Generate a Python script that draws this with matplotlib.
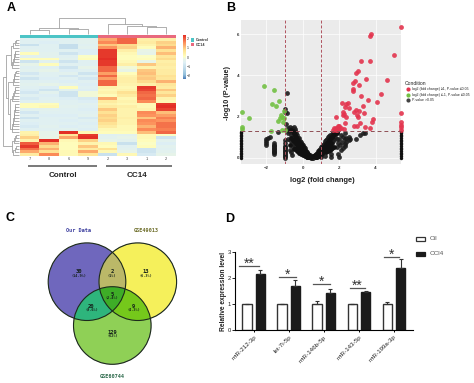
import numpy as np
import matplotlib
matplotlib.use('Agg')
import matplotlib.pyplot as plt
from matplotlib.colors import LinearSegmentedColormap
from matplotlib.patches import Circle, Rectangle

plt.rcParams['font.family'] = ['Liberation Sans', 'DejaVu Sans']

W, H = 474, 383

# ---- panel A data
heat_rows = [
    [-.5,-.5,-.5,-.4, 1.3,1.9,.4,.4], [-.5,-.6,-.5,-.4, 1.6,1.9,.5,.9],
    [-1.0,-.5,-1.1,-.5, 1.0,.8,.3,.8], [-.5,-.5,-1.1,-.4, 1.5,.9,.1,1.2],
    [-.4,-.5,-.5,-.6, 2.3,.4,-.2,.7], [.1,-.4,-.9,-.6, 2.3,.2,-.3,1.1],
    [-.4,-.4,-.5,.0, 2.3,.1,.0,.6], [.1,.1,-.4,.1, 2.4,.1,.1,.8],
    [-.9,-.4,-.9,-.5, 2.3,.2,-.2,.4], [-.3,.1,-.5,-.5, 2.3,.4,1.0,.5],
    [-.5,-.5,-.9,-.3, 1.9,-.1,.3,.4], [-.4,-.3,-.6,-.5, 1.9,-.2,1.0,.5],
    [-.8,-.5,-.4,-.9, 1.4,.1,1.1,.5], [-.5,-.5,-.8,-.5, 1.9,.3,.9,.7],
    [-.9,-.6,-.5,-.8, 1.4,.4,1.0,.6], [-.5,-.5,-.6,-.5, 1.9,.4,.8,1.2],
    [-.4,-.3,-.4,-.6, 1.9,.3,.4,.6], [-.5,-.6,.1,-.5, .3,.2,2.3,.5],
    [-.6,-.9,-.4,-.6, .2,.3,2.2,1.0], [-.8,-.4,-.9,-.1, .3,.7,1.9,.6],
    [-.5,-.6,-.9,-.1, .1,.5,1.8,.9], [-.7,-.5,-.6,-.7, 1.3,.2,1.9,.3],
    [-.5,-.4,-.5,-.6, .5,.3,1.6,.2], [.1,.1,-.5,-.4, .3,.2,.2,2.3],
    [.1,.2,-.4,-.5, .5,.4,.2,2.4], [-.4,-.4,-.5,-.6, 1.0,.3,.3,2.2],
    [-.8,-.5,-.5,-.5, .7,.3,1.6,1.1], [-.5,-.6,-.6,-.4, .9,.3,1.5,1.4],
    [-.9,-.5,-.5,-.7, .8,.4,1.0,1.7], [-.5,-.5,-.6,-.5, .9,.3,1.6,1.5],
    [-.6,-.5,-.5,-.6, .7,.3,1.5,1.8], [-.7,-.4,-.6,-.5, .5,.2,1.2,1.8],
    [-.5,-.5,-.4,-.6, .2,.2,1.6,1.7], [.3,-.3,2.4,.2, .1,.1,1.1,1.9],
    [.4,-.3,.6,2.3, -.5,-.4,.2,.0], [.9,-.2,1.3,2.4, -.4,-.3,.2,-.9],
    [.3,2.4,.2,.9, -.3,-.4,.1,-.4], [2.0,1.2,.1,.3, .2,-1.0,.0,-.6],
    [2.3,.8,.1,1.0, .1,-.5,.1,-.4], [1.8,1.2,.1,.5, .7,-.4,-.9,-.5],
    [1.3,.7,.2,1.3, .2,-.3,-.9,-.4], [.5,1.6,.2,.6, -1.0,.2,-.7,-.3],
]
heat_labels = ['7', '8', '6', '9', '2', '3', '1', '2']

# ---- panel B data
red_x = [5.38,3.75,3.72,5.02,3.2,3.7,3.06,2.91,3.46,2.89,2.75,3.1,2.78,2.78,4.63,4.3,3.19,3.57,4.07,
         2.14,2.49,2.4,3.31,2.34,2.53,2.2,2.29,2.2,2.38,1.83,2.91,3.11,2.84,3.39,3.0,3.06,3.88,3.81,
         3.15,2.84,3.0,2.34,3.44,3.68,1.92,2.02,1.85,1.71,1.67,1.81,1.98,2.13,2.25,1.75,1.9,
         5.38,5.38,5.38,5.38,5.38]
red_y = [6.36,6.02,5.93,5.0,4.69,4.69,4.22,4.12,3.81,3.75,3.62,3.52,3.34,3.25,3.77,3.1,3.0,2.78,2.69,
         2.68,2.68,2.6,2.5,2.44,2.4,2.2,2.14,2.06,1.96,2.0,2.32,2.26,2.22,2.16,2.05,1.96,1.88,1.72,
         1.67,1.56,1.56,1.7,1.48,1.44,1.55,1.52,1.45,1.44,1.32,1.32,1.38,1.42,1.38,1.38,1.33,
         2.16,1.72,1.6,1.48,1.36]
green_x = [-3.33,-2.97,-2.11,-1.58,-1.28,-1.67,-1.45,-1.03,-1.19,-1.14,-1.26,-1.34,-1.04,-1.08,-1.72,-1.12,-.99,-3.33,-3.33]
green_y = [2.24,1.92,3.5,3.3,2.76,2.6,2.52,2.27,2.05,2.0,1.92,1.8,1.92,1.75,1.3,1.32,1.32,1.51,1.38]

black_x = [-.84,-.95,-1.0,-.86,-.93,-1.36,
           -2.0,-2.0,-2.0,-2.0,-1.9,-1.78,
           -1.6,-1.6,-1.6,-1.6,-1.6,-1.6,-1.6,-1.6,-1.55,-1.55,-1.55,
           -1.0,-1.0,-1.0,-1.0,-1.0,-1.0,-1.0,-1.0,-1.0,-1.0,-.95,-.95,-.95,
           -.8,-.8,-.8,-.75,-.7,-.7,-.7,-.65,-.65,-.6,-.6,-.6,-.6,-.55,-.55,
           -.5,-.5,-.5,-.45,-.45,-.45,-.4,-.4,-.4,-.35,-.35,-.3,-.3,-.3,-.25,-.25,
           -.2,-.2,-.2,-.15,-.15,-.1,-.1,-.05,-.05,0,0,0,.05,.05,.1,.1,.15,.15,.2,.2,.25,.25,
           .3,.3,.35,.35,.4,.4,.45,.45,.5,.5,.55,.55,.6,.6,.65,.65,.7,.7,.75,.75,.8,.8,.85,.85,
           .9,.9,.95,.95,1.0,1.0,1.05,1.05,1.1,1.1,1.15,1.15,1.2,1.2,1.25,1.25,1.3,1.3,1.35,1.35,
           1.4,1.4,1.45,1.45,1.5,1.5,1.55,1.55,1.55,1.55,1.6,1.6,1.65,1.65,1.7,1.7,1.75,1.8,
           1.9,1.9,1.9,1.95,1.95,2.0,2.0,2.05,2.1,2.1,2.15,2.2,2.2,2.3,2.3,2.35,2.35,2.4,2.4,2.55,2.55,2.6,
           2.95,3.15,3.3,3.4]
black_y = [3.15,2.37,2.24,2.16,1.64,1.23,
           .62,.72,.82,.92,.95,1.02,
           .2,.27,.34,.41,.48,.55,.62,.7,.27,.4,.55,
           0,.08,.16,.24,.32,.4,.48,.56,.7,.85,.1,.3,.5,
           1.45,1.2,.9,1.3,1.5,.85,.35,1.1,.25,1.45,1.25,.7,.15,1.0,.5,
           1.48,1.2,.75,1.4,.9,.55,1.3,1.05,.7,1.2,.8,1.1,.85,.5,.95,.6,
           .95,.65,.35,.8,.4,.75,.4,.65,.3,.6,.4,.2,.5,.2,.45,.15,.38,.12,.32,.08,.25,.05,
           .2,.05,.15,.02,.12,.01,.08,.0,.05,.0,.08,.0,.1,.01,.12,.02,.15,.03,.2,.05,.22,.07,.3,.08,
           .38,.1,.42,.15,.5,.05,.55,.2,.6,.25,.68,.3,.72,.1,.8,.35,.85,.4,.9,.45,
           1.0,.5,1.05,.55,1.1,.6,.6,.4,.2,.03,1.15,.7,1.2,.8,1.2,.9,1.15,1.0,
           1.25,.9,.5,.7,.2,.9,.05,.6,1.1,.35,.75,1.0,.45,.9,.55,1.2,.65,.95,.75,1.0,.85,.9,
           .92,1.1,1.2,1.22]
# denser part of the V
dense_x = [-.62,-.55,-.48,-.42,-.36,-.3,-.24,-.18,-.12,-.06,0,.06,.12,.18,.24,.3,.36,
           -.52,-.46,-.38,-.32,-.26,-.2,-.14,-.08,-.02,.04,.1,.16,.22,.28,.34,.4,.46,
           -.72,-.62,-.5,-.38,-.3,-.2,-.1,.02,.12,.22,.32,.42,
           .62,.68,.74,.8,.86,.92,.98,1.04,1.1,1.16,1.22,1.28,1.34,1.4,1.46,1.52,1.58,
           .72,.78,.84,.9,.96,1.02,1.08,1.14,1.2,1.26,1.32,1.38,1.44,1.5,1.56,
           1.62,1.68,1.74,1.8,1.86,1.3,1.4,1.5,1.6,1.7]
dense_y = [1.32,1.28,1.18,1.08,1.0,.92,.82,.74,.66,.58,.5,.42,.34,.28,.22,.16,.1,
           .85,.8,.72,.66,.55,.5,.44,.38,.3,.26,.22,.16,.12,.08,.06,.03,.02,
           .6,.95,.4,.42,.3,.22,.2,.12,.06,.03,.02,.01,
           .06,.1,.14,.18,.24,.3,.34,.4,.46,.52,.58,.64,.7,.76,.84,.9,.98,
           .03,.05,.08,.12,.16,.2,.24,.3,.35,.4,.46,.5,.58,.62,.7,
           1.02,1.1,1.14,1.18,1.22,.25,.3,.35,.45,.5]
edge_y = [.0,.08,.16,.24,.32,.4,.48,.56,.64,.72,.8,.88,.96,1.04,1.12,1.2,1.27]
volcano_legend = ['log2 (fold change) \u22651, P-value \u22640.05',
                  'log2 (fold change) \u2264-1, P-value \u22640.05',
                  'P-value >0.05']

# ---- panel C data
venn_counts = ['30', '2', '13', '5', '20', '9', '129']
venn_pcts = ['(14.9%)', '(1%)', '(6.3%)', '(2.4%)', '(9.6%)', '(4.3%)', '(62%)']

# ---- panel D data
mirnas = ['miR-212-3p', 'let-7i-5p', 'miR-146b-5p', 'miR-143-5p', 'miR-199a-3p']
oil_vals = [1.0, 1.0, 1.02, 1.0, 1.03]
oil_err = [.03, .01, .11, .02, .05]
ccl4_vals = [2.18, 1.72, 1.44, 1.49, 2.4]
ccl4_err = [.13, .2, .16, .02, .33]
sig_marks = ['**', '*', '*', '**', '*']
sig_left = [-.436, .726, 1.69, 2.745, 3.716]
sig_right = [.155, 1.19, 2.18, 3.16, 4.154]
sig_level = [2.49, 2.05, 1.77, 1.64, 2.82]


def px_axes(x0, y0, x1, y1):
    return fig.add_axes([x0 / W, 1 - y1 / H, (x1 - x0) / W, (y1 - y0) / H])


fig = plt.figure(figsize=(W / 100, H / 100), dpi=100)
over = fig.add_axes([0, 0, 1, 1], zorder=5)
over.set_xlim(0, W)
over.set_ylim(H, 0)
over.axis('off')

for lab, lx, ly in [('A', 11, 8), ('B', 231, 8), ('C', 10.5, 218), ('D', 229.5, 219)]:
    over.text(lx, ly, lab, fontsize=9, fontweight='bold', ha='center', va='center')

############################################################################
#                               Panel A                                    #
############################################################################
cmap = LinearSegmentedColormap.from_list('rdylbu', [(0, '#4575B4'), (.1, '#91BFDB'), (.27, '#c5deec'),
                                                    (.38, '#deeff5'), (.46, '#e9f5e6'), (.51, '#FFFFBF'),
                                                    (.66, '#FEE090'), (.83, '#FC8D59'), (1, '#E32F26')])
ax = px_axes(20, 38.3, 176, 156)
im = ax.imshow(np.array(heat_rows), cmap=cmap, vmin=-2.4, vmax=2.4, aspect='auto', interpolation='nearest')
ax.axis('off')

over.add_patch(Rectangle((20, 34.6), 78, 3.2, color='#4cc4c6', lw=0))
over.add_patch(Rectangle((98, 34.6), 78, 3.2, color='#e8697e', lw=0))
for i, t in enumerate(heat_labels):
    over.text(20 + (i + .5) * 19.5, 159, t, fontsize=2.8, color='#444444', ha='center', va='center')

cax = px_axes(182.7, 35, 185.7, 79.3)
cb = fig.colorbar(im, cax=cax, ticks=[-2, -1, 0, 1, 2])
cb.outline.set_visible(False)
cb.ax.tick_params(labelsize=2.6, length=0, pad=.8, colors='#333333')

over.add_patch(Rectangle((191.5, 38.3), 3, 3.3, color='#4cc4c6', lw=0))
over.add_patch(Rectangle((191.5, 43), 3, 3.3, color='#e8697e', lw=0))
over.text(195.5, 39.9, 'Control', fontsize=2.6, va='center', fontweight='bold', color='#333333')
over.text(195.5, 44.6, 'CC14', fontsize=2.6, va='center', fontweight='bold', color='#333333')


def draw_tree(node, leaf_pos, base, sign, horizontal=False):
    # node is a leaf number or (height, left, right)
    if not isinstance(node, tuple):
        return leaf_pos(node), 0
    h, a, b = node
    pa, ha = draw_tree(a, leaf_pos, base, sign, horizontal)
    pb, hb = draw_tree(b, leaf_pos, base, sign, horizontal)
    seg = [pa, pa, pb, pb], [base - sign * ha, base - sign * h, base - sign * h, base - sign * hb]
    if horizontal:
        seg = seg[1], seg[0]
    over.plot(seg[0], seg[1], color='#9a9a9a', lw=.55, solid_capstyle='butt')
    return (pa + pb) / 2, h


col_tree = (16, (6, (4.3, 0, 1), (5.7, 2, 3)),
            (10.3, 4, (8.7, 5, (7.6, 6, 7))))
draw_tree(col_tree, lambda i: 20 + (i + .5) * 19.5, 34.3, 1)


def comb(lo, hi, h):
    node = lo
    for k, leaf in enumerate(range(lo + 1, hi + 1)):
        node = (h * (.45 + .55 * (k + 1) / (hi - lo)), node, leaf)
    return node


row_tree = (15.7, (13, (8, comb(0, 3, 5.5), comb(4, 10, 6.5)),
                   (11, comb(11, 16, 6), (9, comb(17, 22, 6.5), comb(23, 33, 7)))),
            (7, comb(34, 37, 5), comb(38, 41, 5.5)))
draw_tree(row_tree, lambda i: 38.3 + (i + .5) * 2.8, 19, 1, horizontal=True)

for x0, x1 in [(28.3, 97.3), (105.7, 172)]:
    over.plot([x0, x1], [165.7, 165.7], color='#555555', lw=1.1, solid_capstyle='butt')
over.text(63, 175.3, 'Control', fontsize=5.8, fontweight='bold', ha='center', va='center', color='#222222')
over.text(137, 175.3, 'CC14', fontsize=5.8, fontweight='bold', ha='center', va='center', color='#222222')

############################################################################
#                               Panel B                                    #
############################################################################
ax = px_axes(241, 20.5, 401, 164)
ax.set_facecolor('#ebebeb')
ax.set_xlim(-3.39, 5.4)
ax.set_ylim(-.31, 6.67)
ax.grid(color='white', lw=.5)
ax.set_axisbelow(True)
for s in ax.spines.values():
    s.set_visible(False)
ax.set_xticks([-2, 0, 2, 4])
ax.set_yticks([0, 2, 4, 6])
ax.tick_params(labelsize=3.2, length=0, pad=1.5, colors='#333333')
for t in ax.get_xticklabels() + ax.get_yticklabels():
    t.set_fontweight('bold')

ms = 12
ax.scatter(black_x, black_y, s=ms, color='#1c1c1c', alpha=.9, lw=0, clip_on=False)
ax.scatter(dense_x, dense_y, s=ms, color='#111111', lw=0, clip_on=False)
ax.scatter([-3.37] * len(edge_y), edge_y, s=ms * .5, color='#111111', lw=0, clip_on=False)
ax.scatter([5.38] * len(edge_y), edge_y, s=ms * .5, color='#111111', lw=0, clip_on=False)
ax.scatter(green_x, green_y, s=ms, color='#72c043', alpha=.9, lw=0, clip_on=False)
ax.scatter(red_x, red_y, s=ms, color='#e3344e', alpha=.9, lw=0, clip_on=False)
for v in [-1, 1]:
    ax.axvline(v, color='#b0535f', ls=(0, (3, 2)), lw=.7)
ax.axhline(1.3, color='#8f4f55', ls=(0, (4, 3)), lw=.7)

over.text(228, 93, '-log10 (P-value)', fontsize=5.2, fontweight='bold', rotation=90,
          ha='center', va='center', color='#222222')
over.text(322, 180, 'log2 (fold change)', fontsize=5.4, fontweight='bold', ha='center', va='center',
          color='#222222')
over.text(405, 83.3, 'Condition', fontsize=3.6, va='center', color='#222222')
for t, c, ly in zip(volcano_legend, ['#e3344e', '#72c043', '#444444'], [89, 94.7, 100.3]):
    over.scatter([408.5], [ly], s=9, color=c, lw=0)
    over.text(412, ly, t, fontsize=2.55, va='center', color='#222222')

############################################################################
#                               Panel C                                    #
############################################################################
centers = [(87, 281.7), (137.8, 281.7), (112.3, 325.5)]
radius = 38.8
gx, gy = np.meshgrid(np.linspace(40, 185, 870), np.linspace(235, 370, 810))
inside = [(gx - c[0]) ** 2 + (gy - c[1]) ** 2 <= radius ** 2 for c in centers]
region_colors = [((1, 0, 0), '#7067bd'), ((0, 1, 0), '#f6f05c'), ((0, 0, 1), '#8fd157'),
                 ((1, 1, 0), '#bbb968'), ((1, 0, 1), '#2fb57c'), ((0, 1, 1), '#76c81c'),
                 ((1, 1, 1), '#3fae28')]
rgba = np.zeros(gx.shape + (4,))
for key, c in region_colors:
    mask = (inside[0] == bool(key[0])) & (inside[1] == bool(key[1])) & (inside[2] == bool(key[2]))
    rgba[mask] = matplotlib.colors.to_rgba(c)
over.imshow(rgba, extent=(40, 185, 370, 235), interpolation='bilinear', aspect='auto', zorder=1)
over.set_xlim(0, W)
over.set_ylim(H, 0)
for c in centers:
    over.add_patch(Circle(c, radius, fill=False, ec='#1c2a1c', lw=.8, zorder=2))

mono = 'DejaVu Sans Mono'
over.text(78.5, 231, 'Our Data', family=mono, fontweight='bold', fontsize=3.8, color='#3d3f9f', ha='center', va='center')
over.text(146, 231, 'GSE49013', family=mono, fontweight='bold', fontsize=3.8, color='#6f6f2c', ha='center', va='center')
over.text(112.3, 376.7, 'GSE60744', family=mono, fontweight='bold', fontsize=3.8, color='#2f6b4d', ha='center', va='center')

venn_x = [78.7, 112, 146, 112, 91.3, 133.3, 112.3]
venn_y = [271.3, 271.3, 271.3, 294, 306, 306, 332]
for t, p, vx, vy in zip(venn_counts, venn_pcts, venn_x, venn_y):
    over.text(vx, vy, t, family=mono, fontweight='bold', fontsize=4, ha='center', va='center', color='#14201a', zorder=3)
    over.text(vx, vy + 4.2, p, family=mono, fontweight='bold', fontsize=2.5, ha='center', va='center', color='#14201a', zorder=3)

############################################################################
#                               Panel D                                    #
############################################################################
ax = px_axes(235.3, 252.3, 412.7, 330.3)
ax.set_xlim(-.53, 4.535)
ax.set_ylim(0, 3)
ax.patch.set_alpha(0)
pos = np.arange(len(mirnas))
bw = .276
ax.bar(pos - .188, oil_vals, bw, color='white', edgecolor='#333333', lw=1,
       yerr=[np.zeros(5), oil_err], ecolor='#333333', error_kw=dict(lw=.8, capsize=1.6, capthick=.8))
ax.bar(pos + .188, ccl4_vals, bw, color='#1b1b1b', edgecolor='#1b1b1b', lw=1,
       yerr=[np.zeros(5), ccl4_err], ecolor='#333333', error_kw=dict(lw=.8, capsize=1.6, capthick=.8))
ax.set_xticks(pos)
ax.set_xticklabels(mirnas, rotation=45, ha='right', rotation_mode='anchor', fontsize=4.5, color='#222222')
ax.set_yticks([0, 1, 2, 3])
ax.tick_params(axis='y', labelsize=4.2, length=2, width=.7, pad=1, colors='#222222')
ax.tick_params(axis='x', length=1.5, width=.7, pad=1.5)
ax.spines['top'].set_visible(False)
ax.spines['right'].set_visible(False)
ax.spines['left'].set_linewidth(.8)
ax.spines['bottom'].set_linewidth(.8)
ax.set_ylabel('Relative expression level', fontsize=4.8, fontweight='bold', color='#222222', labelpad=.3)

for m, a, b, lev in zip(sig_marks, sig_left, sig_right, sig_level):
    ax.plot([a, b], [lev, lev], color='#555555', lw=.9, clip_on=False)
    ax.text((a + b) / 2, lev + .08, m, fontsize=10, ha='center', va='center', color='#333333', clip_on=False)

over.add_patch(Rectangle((416.5, 236.5), 8.5, 4, fc='white', ec='#333333', lw=.9))
over.add_patch(Rectangle((416.5, 251.5), 8.5, 4, fc='#1b1b1b', ec='#1b1b1b', lw=.9))
over.text(430, 238.3, 'Oil', fontsize=4.6, va='center', color='#555555')
over.text(430, 253.3, 'CCl4', fontsize=4.6, va='center', color='#555555')

fig.savefig('out.png', dpi=100)
